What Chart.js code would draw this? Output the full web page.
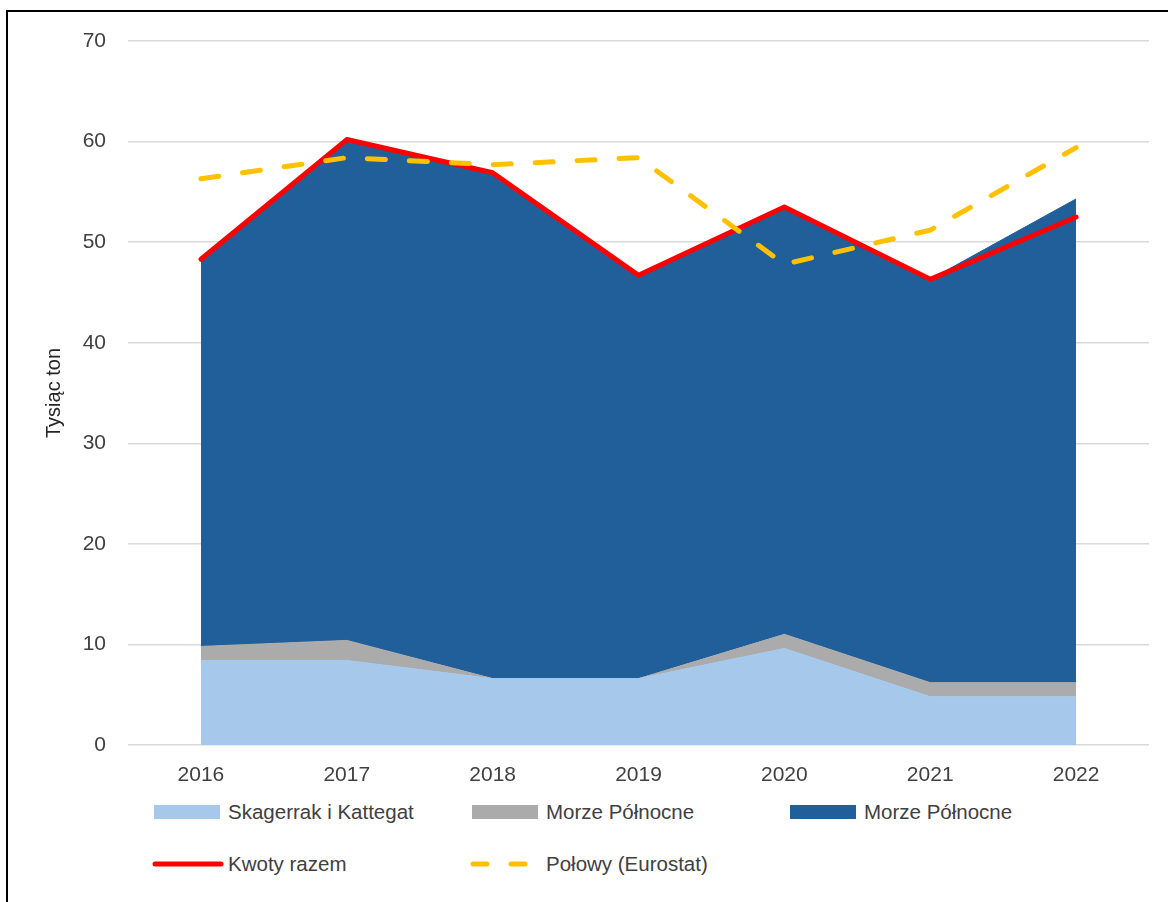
<!DOCTYPE html>
<html lang="pl">
<head>
<meta charset="utf-8">
<script src="https://cdn.jsdelivr.net/npm/chart.js@4.4.1/dist/chart.umd.min.js"></script>
<style>
  html, body { margin: 0; padding: 0; background: #fff; overflow: hidden; width: 1168px; height: 902px; }
  #frame { position: absolute; left: 6px; top: 10px; width: 1220px; height: 1000px; border: 2px solid #000; }
  #chart { position: absolute; left: 0; top: 0; }
  #legend { position: absolute; left: 0; top: 0; font-family: "Liberation Sans", Arial, sans-serif; font-size: 20.5px; color: #404040; }
  .item { position: absolute; display: flex; align-items: center; height: 24px; white-space: nowrap; }
  .swatch { width: 66px; height: 14px; margin-right: 8px; }
  .item svg { margin-right: 4px; }
</style>
</head>
<body>
<div id="frame"></div>
<canvas id="chart" width="1168" height="800"></canvas>
<div id="legend"></div>
<script>
// Dane
var years = ['2016', '2017', '2018', '2019', '2020', '2021', '2022'];
var skagerrak = [8.4, 8.4, 6.6, 6.6, 9.6, 4.8, 4.8];
var morzeSzare = [1.4, 2.0, 0, 0, 1.4, 1.4, 1.4];
var morzeNiebieskie = [38.5, 49.8, 50.3, 40.1, 42.5, 40.1, 48.1];
var kwotyRazem = [48.3, 60.2, 56.9, 46.7, 53.5, 46.3, 52.5];
var polowy = [56.3, 58.4, 57.7, 58.4, 47.8, 51.2, 59.4];
var yTicks = [0, 10, 20, 30, 40, 50, 60, 70];

var textColor = '#404040';

function area(label, values, color, fill) {
  return {
    type: 'line', label: label, data: values, stack: 'obszar', order: 2,
    backgroundColor: color, borderColor: color, borderWidth: 1,
    fill: fill, pointRadius: 0, tension: 0
  };
}

var ctx = document.getElementById('chart').getContext('2d');
var chart = new Chart(ctx, {
  type: 'line',
  data: {
    labels: years,
    datasets: [
      area('Skagerrak i Kattegat', skagerrak, '#A6C8EA', 'origin'),
      area('Morze Północne', morzeSzare, '#ABABAB', '-1'),
      area('Morze Północne', morzeNiebieskie, '#215F9A', '-1'),
      {
        label: 'Kwoty razem', data: kwotyRazem, stack: 'kwoty', order: 1,
        borderColor: '#FF0000', borderWidth: 5, fill: false, pointRadius: 0,
        borderJoinStyle: 'round', borderCapStyle: 'round'
      },
      {
        label: 'Połowy (Eurostat)', data: polowy, stack: 'polowy', order: 0,
        borderColor: '#FFC000', borderWidth: 5, borderDash: [18, 24], fill: false, pointRadius: 0,
        borderCapStyle: 'round'
      }
    ]
  },

  options: {
    responsive: false,
    animation: false,
    devicePixelRatio: 1,
    layout: { padding: { left: 42, right: 19, top: 41, bottom: 13 } },
    plugins: {
      legend: { display: false },
      tooltip: { enabled: false }
    },
    scales: {
      x: {
        offset: true,
        grid: { display: false },
        border: { display: false },
        ticks: { color: textColor, padding: 10, font: { family: 'Liberation Sans', size: 21 } },
        afterFit: function (axis) { axis.height = 42; }
      },
      y: {
        stacked: true,
        min: yTicks[0],
        max: yTicks[yTicks.length - 1],
        afterBuildTicks: function (axis) {
          axis.ticks = yTicks.map(function (v) { return { value: v }; });
        },
        afterFit: function (axis) { axis.width = 86; },
        grid: { color: '#D9D9D9', lineWidth: 1.5, drawTicks: false },
        border: { display: false },
        ticks: { color: textColor, padding: 22, font: { family: 'Liberation Sans', size: 21 } },
        title: {
          display: true, text: 'Tysiąc ton', color: '#262626',
          font: { family: 'Liberation Sans', size: 20 },
          padding: { top: 0, bottom: 18 }
        }
      }
    }
  }
});

// Legenda (dwa wiersze, trzy kolumny)
var legend = document.getElementById('legend');
chart.data.datasets.forEach(function (ds, i) {
  var row = i < 3 ? 0 : 1;
  var col = i < 3 ? i : i - 3;
  var item = document.createElement('div');
  item.className = 'item';
  item.style.left = (154 + col * 318) + 'px';
  item.style.top = (800 + row * 52) + 'px';
  if (ds.fill) {
    var sw = document.createElement('span');
    sw.className = 'swatch';
    sw.style.background = ds.backgroundColor;
    item.appendChild(sw);
  } else {
    var dash = ds.borderDash ? 'stroke-dasharray="14 24"' : '';
    item.innerHTML = '<svg width="72" height="10" style="margin-left:-2px"><line x1="3" y1="5" x2="69" y2="5" stroke="' +
      ds.borderColor + '" stroke-width="5" stroke-linecap="round" ' + dash + '/></svg>';
  }
  var txt = document.createElement('span');
  txt.textContent = ds.label;
  item.appendChild(txt);
  legend.appendChild(item);
});
</script>
</body>
</html>
